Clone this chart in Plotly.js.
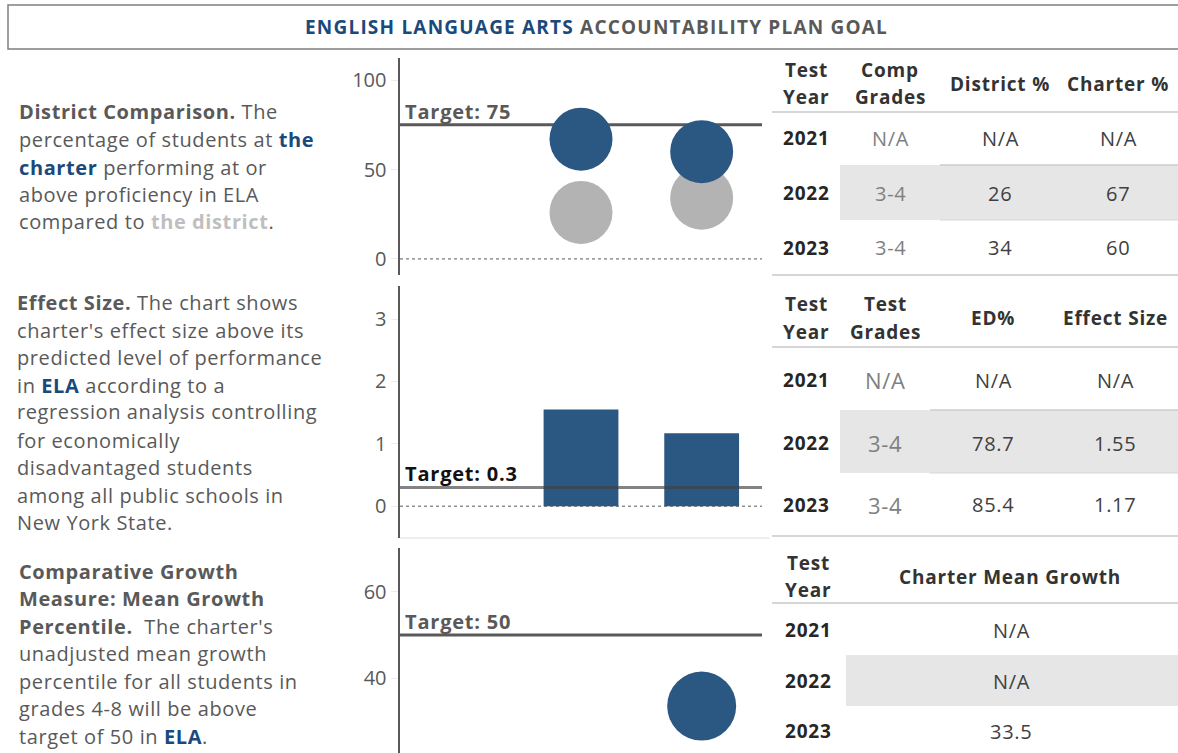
<!DOCTYPE html>
<html>
<head>
<meta charset="utf-8">
<script src="https://cdn.plot.ly/plotly-3.0.1.min.js"></script>
<style>html,body{margin:0;padding:0;background:#fff;}#chart{width:1178px;height:753px;}</style>
</head>
<body>
<div id="chart"></div>
<script>
// ---------- DATA ----------
var years = ['2021', '2022', '2023'];
var compGrades = ['N/A', '3-4', '3-4'];
var districtPct = [null, 26, 34];
var charterPct = [null, 67, 60];
var testGrades = ['N/A', '3-4', '3-4'];
var edPct = [null, 78.7, 85.4];
var effectSize = [null, 1.55, 1.17];
var meanGrowth = [null, null, 33.5];
var targets = [75, 0.3, 50];
var tickVals1 = [0, 50, 100];
var tickVals2 = [0, 1, 2, 3];
var tickVals3 = [40, 60];

// ---------- helpers ----------
var W = 1178, H = 753;
function px(x) { return x / W; }
function py(y) { return 1 - y / H; }
function fmt(v) { return (v === null || v === undefined) ? 'N/A' : String(v); }
function ls(t, s) { return "<span style='letter-spacing:" + s + "px'>" + t + "</span>"; }
var FONT = 'Open Sans';
var BLUE = '#2b5783';
var TXTBLUE = '#1a4a7c';
var GRAY = '#595959';

var traces = [
  {type: 'scatter', mode: 'markers', x: years, y: districtPct, xaxis: 'x', yaxis: 'y',
   marker: {size: 63, color: '#b3b3b3'}, hoverinfo: 'skip', showlegend: false},
  {type: 'scatter', mode: 'markers', x: years, y: charterPct, xaxis: 'x', yaxis: 'y',
   marker: {size: 63, color: BLUE}, hoverinfo: 'skip', showlegend: false},
  {type: 'bar', x: years, y: effectSize, xaxis: 'x2', yaxis: 'y2', width: 0.62,
   marker: {color: BLUE}, hoverinfo: 'skip', showlegend: false},
  {type: 'scatter', mode: 'markers', x: years, y: meanGrowth, xaxis: 'x3', yaxis: 'y3',
   marker: {size: 69, color: BLUE}, hoverinfo: 'skip', showlegend: false}
];

function xax(anchor) {
  return {domain: [px(400), px(762)], type: 'category', categoryorder: 'array', categoryarray: years,
    range: [-0.5, 2.5], visible: false, anchor: anchor, fixedrange: true};
}
function yax(anchor, dom, rng, tv) {
  return {domain: dom, range: rng, anchor: anchor, tickvals: tv, showgrid: false, zeroline: false,
    showline: true, linecolor: GRAY, linewidth: 2.5, ticks: 'outside', ticklen: 7, tickcolor: '#eeeeee',
    tickfont: {family: FONT, size: 20, color: GRAY}, fixedrange: true};
}

var shapes = [];
var annotations = [];

// title box
shapes.push({type: 'rect', xref: 'paper', yref: 'paper', x0: px(8), x1: px(1182), y0: py(49), y1: py(5),
  line: {color: '#7f7f7f', width: 1.5}, fillcolor: 'rgba(0,0,0,0)'});
annotations.push({xref: 'paper', yref: 'paper', x: px(596), y: py(27), xanchor: 'center', yanchor: 'middle',
  showarrow: false, font: {family: FONT, size: 19, color: GRAY},
  text: ls("<b><span style='color:" + TXTBLUE + "'>ENGLISH LANGUAGE ARTS</span> ACCOUNTABILITY PLAN GOAL</b>", 1.2)});

// target lines, zero lines, labels
var axisRefs = ['y', 'y2', 'y3'];
var xdRefs = ['x domain', 'x2 domain', 'x3 domain'];
var tLabelColors = [GRAY, '#111111', GRAY];
for (var i = 0; i < 3; i++) {
  shapes.push({type: 'line', xref: xdRefs[i], yref: axisRefs[i], x0: 0, x1: 1, y0: targets[i], y1: targets[i],
    line: {color: i === 1 ? 'rgba(64,64,64,0.65)' : GRAY, width: 3}, layer: i === 1 ? 'above' : 'below'});
  annotations.push({xref: 'paper', yref: axisRefs[i], x: px(403), y: targets[i], xanchor: 'left', yanchor: 'bottom',
    yshift: -2, showarrow: false, font: {family: FONT, size: 20, color: tLabelColors[i]},
    text: ls('<b>Target: ' + targets[i] + '</b>', 0.8)});
}
shapes.push({type: 'line', xref: 'x domain', yref: 'y', x0: 0, x1: 1, y0: 0, y1: 0,
  line: {color: GRAY, width: 1, dash: 'dot'}, layer: 'below'});
shapes.push({type: 'line', xref: 'x2 domain', yref: 'y2', x0: 0, x1: 1, y0: 0, y1: 0,
  line: {color: GRAY, width: 1, dash: 'dot'}, layer: 'above'});
shapes.push({type: 'line', xref: 'paper', yref: 'paper', x0: px(400), x1: px(770), y0: py(538), y1: py(538),
  line: {color: '#eeeeee', width: 2}});

// ---------- left text ----------
function leftLines(lines, x, ys) {
  for (var k = 0; k < lines.length; k++) {
    annotations.push({xref: 'paper', yref: 'paper', x: px(x), y: py(ys[k]), xanchor: 'left', yanchor: 'middle',
      showarrow: false, font: {family: FONT, size: 20, color: GRAY}, text: ls(lines[k], 0.6)});
  }
}
function blueB(t) { return "<b><span style='color:" + TXTBLUE + "'>" + t + "</span></b>"; }
leftLines([
  '<b>District Comparison.</b> The',
  'percentage of students at ' + blueB('the'),
  blueB('charter') + ' performing at or',
  'above proficiency in ELA',
  "compared to <b><span style='color:#bfbfbf'>the district</span></b>."
], 17, [112, 139, 167, 194, 222]);
leftLines([
  '<b>Effect Size.</b> The chart shows',
  "charter's effect size above its",
  'predicted level of performance',
  'in ' + blueB('ELA') + ' according to a',
  'regression analysis controlling',
  'for economically',
  'disadvantaged students',
  'among all public schools in',
  'New York State.'
], 15, [302, 330, 357, 385, 412, 440, 467, 495, 522]);
leftLines([
  '<b>Comparative Growth</b>',
  '<b>Measure: Mean Growth</b>',
  "<b>Percentile.</b>&nbsp; The charter's",
  'unadjusted mean growth',
  'percentile for all students in',
  'grades 4-8 will be above',
  'target of 50 in ' + blueB('ELA') + '.'
], 17, [571, 598, 626, 653, 681, 708, 736]);

// ---------- tables ----------
function cell(text, x, y, opts) {
  opts = opts || {};
  var t = opts.bold ? '<b>' + text + '</b>' : text;
  annotations.push({xref: 'paper', yref: 'paper', x: px(x), y: py(y), xanchor: 'center', yanchor: 'middle',
    showarrow: false, font: {family: FONT, size: opts.size || 20, color: opts.color || '#404040'},
    text: ls(t, opts.bold ? 0.8 : 0.7)});
}
function hline(x0, x1, y, color, w) {
  shapes.push({type: 'line', xref: 'paper', yref: 'paper', x0: px(x0), x1: px(x1), y0: py(y), y1: py(y),
    line: {color: color || '#c8c8c8', width: w || 1.5}});
}
function shade(x0, x1, y0, y1) {
  shapes.push({type: 'rect', xref: 'paper', yref: 'paper', x0: px(x0), x1: px(x1), y0: py(y1), y1: py(y0),
    fillcolor: '#e6e6e6', line: {width: 0}, layer: 'below'});
}
var HDR = '#333333', YRC = '#262626', GR = '#7f7f7f';

// table 1
shade(840, 1178, 165, 220);
hline(940, 1178, 165, '#cccccc', 1.5);
hline(940, 1178, 220, '#d6d6d6', 1);
hline(772, 1178, 112);
hline(772, 1178, 275);
cell('Test', 806, 70, {bold: true, color: HDR, size: 19}); cell('Year', 806, 97, {bold: true, color: HDR, size: 19});
cell('Comp', 890, 70, {bold: true, color: HDR, size: 19}); cell('Grades', 890, 97, {bold: true, color: HDR, size: 19});
cell('District %', 1000, 84, {bold: true, color: HDR, size: 19});
cell('Charter %', 1118, 84, {bold: true, color: HDR, size: 19});
var rows1 = [138, 193, 248];
for (var r = 0; r < 3; r++) {
  cell(years[r], 806, rows1[r], {bold: true, color: YRC, size: 19});
  cell(compGrades[r], 890, rows1[r], {color: GR});
  cell(fmt(districtPct[r]), 1000, rows1[r]);
  cell(fmt(charterPct[r]), 1118, rows1[r]);
}

// table 2
shade(840, 1178, 410, 473);
hline(930, 1178, 410, '#cccccc', 1.5);
hline(930, 1178, 473, '#d6d6d6', 1);
hline(772, 1178, 347);
hline(772, 1178, 536);
cell('Test', 806, 304, {bold: true, color: HDR, size: 19}); cell('Year', 806, 332, {bold: true, color: HDR, size: 19});
cell('Test', 885, 304, {bold: true, color: HDR, size: 19}); cell('Grades', 885, 332, {bold: true, color: HDR, size: 19});
cell('ED%', 993, 318, {bold: true, color: HDR, size: 19});
cell('Effect Size', 1115, 318, {bold: true, color: HDR, size: 19});
var rows2 = [380, 443, 505];
for (var r2 = 0; r2 < 3; r2++) {
  cell(years[r2], 806, rows2[r2], {bold: true, color: YRC, size: 19});
  cell(testGrades[r2], 885, rows2[r2], {color: GR, size: 22});
  cell(fmt(edPct[r2]), 993, rows2[r2]);
  cell(r2 === 0 ? 'N/A' : effectSize[r2].toFixed(2), 1115, rows2[r2]);
}

// table 3
shade(846, 1178, 655, 706);
hline(772, 1178, 603);
cell('Test', 808, 563, {bold: true, color: HDR, size: 19}); cell('Year', 808, 590, {bold: true, color: HDR, size: 19});
cell('Charter Mean Growth', 1010, 577, {bold: true, color: HDR, size: 19});
var rows3 = [630, 681, 731];
for (var r3 = 0; r3 < 3; r3++) {
  cell(years[r3], 808, rows3[r3], {bold: true, color: YRC, size: 19});
  cell(fmt(meanGrowth[r3]), 1011, rows3[r3]);
}

var layout = {
  width: W, height: H, margin: {l: 0, r: 0, t: 0, b: 0},
  paper_bgcolor: '#ffffff', plot_bgcolor: 'rgba(0,0,0,0)', showlegend: false,
  font: {family: FONT, color: GRAY},
  xaxis: xax('y'), yaxis: yax('x', [py(275), py(58)], [-9, 112.4], tickVals1),
  xaxis2: xax('y2'), yaxis2: yax('x2', [py(538), py(286)], [-0.51, 3.53], tickVals2),
  xaxis3: xax('y3'), yaxis3: yax('x3', [py(753), py(548)], [22.6, 70.2], tickVals3),
  shapes: shapes, annotations: annotations, bargap: 0.38
};

Plotly.newPlot('chart', traces, layout, {displayModeBar: false, staticPlot: true});
</script>
</body>
</html>
